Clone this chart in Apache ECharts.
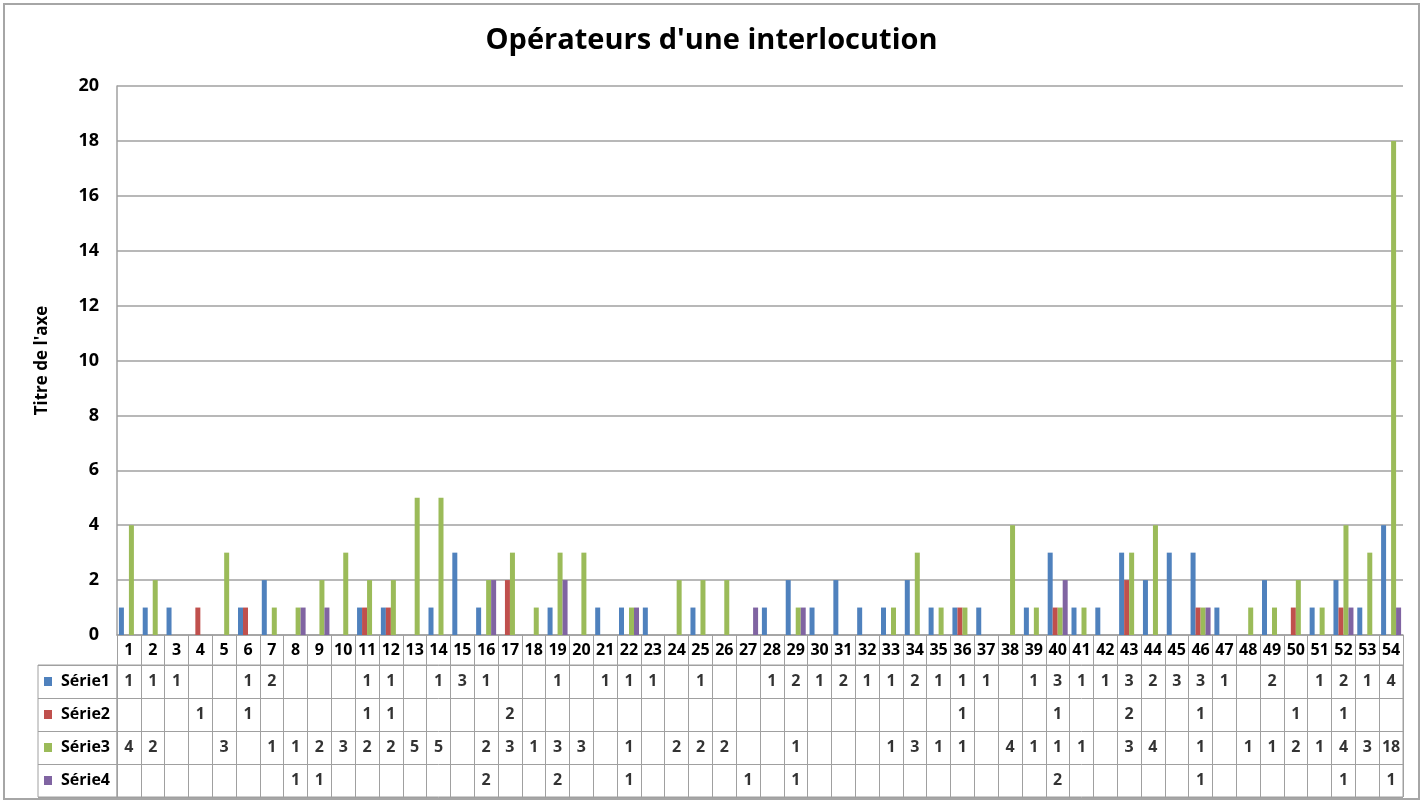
<!DOCTYPE html>
<html>
<head>
<meta charset="utf-8">
<script src="https://cdn.jsdelivr.net/npm/echarts@6/dist/echarts.min.js"></script>
<style>
html, body { margin: 0; padding: 0; background: #fff; }
#chart { width: 1423px; height: 802px; }
#frame { position: absolute; left: 3px; top: 3px; width: 1413px; height: 793px; border: 2px solid #a6a6a6; pointer-events: none; }
</style>
</head>
<body>
<div id="chart"></div>
<div id="frame"></div>
<script>
var n = null
var categories = ['1', '2', '3', '4', '5', '6', '7', '8', '9', '10',
  '11', '12', '13', '14', '15', '16', '17', '18', '19', '20',
  '21', '22', '23', '24', '25', '26', '27', '28', '29', '30',
  '31', '32', '33', '34', '35', '36', '37', '38', '39', '40',
  '41', '42', '43', '44', '45', '46', '47', '48', '49', '50',
  '51', '52', '53', '54']
var serie1 = [1, 1, 1, n, n, 1, 2, n, n, n, 1, 1, n, 1, 3, 1, n, n, 1, n,
  1, 1, 1, n, 1, n, n, 1, 2, 1, 2, 1, 1, 2, 1, 1, 1, n, 1, 3,
  1, 1, 3, 2, 3, 3, 1, n, 2, n, 1, 2, 1, 4]
var serie2 = [n, n, n, 1, n, 1, n, n, n, n, 1, 1, n, n, n, n, 2, n, n, n,
  n, n, n, n, n, n, n, n, n, n, n, n, n, n, n, 1, n, n, n, 1,
  n, n, 2, n, n, 1, n, n, n, 1, n, 1, n, n]
var serie3 = [4, 2, n, n, 3, n, 1, 1, 2, 3, 2, 2, 5, 5, n, 2, 3, 1, 3, 3,
  n, 1, n, 2, 2, 2, n, n, 1, n, n, n, 1, 3, 1, 1, n, 4, 1, 1,
  1, n, 3, 4, n, 1, n, 1, 1, 2, 1, 4, 3, 18]
var serie4 = [n, n, n, n, n, n, n, 1, 1, n, n, n, n, n, n, 2, n, n, 2, n,
  n, 1, n, n, n, n, 1, n, 1, n, n, n, n, n, n, n, n, n, n, 2,
  n, n, n, n, n, 1, n, n, n, n, n, 1, n, 1]
var seriesNames = ['Série1', 'Série2', 'Série3', 'Série4']
var colors = ['#4F81BD', '#C0504D', '#9BBB59', '#8064A2']

var allSeries = [serie1, serie2, serie3, serie4]
var lineGray = '#a0a0a0'
var font = 'Open Sans'

// cells of the data table
var tableCells = []
allSeries.forEach(function(values, row) {
  values.forEach(function(v, i) {
    if (v !== null) tableCells.push([i, row, v])
  })
})

var rich = { t: { fontFamily: font, fontWeight: 'bold', fontSize: 16, color: '#000', padding: [0, 0, 0, 9] } }
colors.forEach(function(c, i) {
  rich['k' + i] = { width: 8, height: 9, backgroundColor: c }
})

var chart = echarts.init(document.getElementById('chart'))

var barSeries = allSeries.map(function(values, i) {
  return {
    name: seriesNames[i],
    type: 'bar',
    xAxisIndex: 0,
    yAxisIndex: 0,
    data: values,
    barGap: '0%',
    barCategoryGap: '16%',
    itemStyle: { color: colors[i] }
  }
})

chart.setOption({
  animation: false,
  textStyle: { fontFamily: font },
  title: {
    text: "Opérateurs d'une interlocution",
    left: 'center',
    top: 21,
    textStyle: { fontFamily: font, fontSize: 29, fontWeight: 'bold', color: '#000' }
  },
  grid: [
    { left: 117, right: 20, top: 86, height: 549 },
    { left: 117, right: 20, top: 665, height: 132, show: true, borderColor: lineGray, borderWidth: 1 },
    { left: 38, width: 79, top: 665, height: 132, show: true, borderColor: lineGray, borderWidth: 1 }
  ],
  xAxis: [
    {
      gridIndex: 0,
      type: 'category',
      data: categories,
      axisLine: { lineStyle: { color: lineGray, width: 1.5 } },
      axisTick: { show: true, interval: 0, length: 30, lineStyle: { color: lineGray } },
      axisLabel: { interval: 0, margin: 7, fontWeight: 'bold', fontSize: 16, color: '#000' }
    },
    {
      gridIndex: 1,
      type: 'category',
      data: categories,
      axisLine: { show: false },
      axisTick: { show: false },
      axisLabel: { show: false },
      splitLine: { show: true, interval: 0, lineStyle: { color: lineGray } }
    },
    { gridIndex: 2, type: 'value', show: false }
  ],
  yAxis: [
    {
      gridIndex: 0,
      type: 'value',
      min: 0,
      max: 20,
      interval: 2,
      name: "Titre de l'axe",
      nameLocation: 'middle',
      nameGap: 66,
      nameTextStyle: { fontWeight: 'bold', fontSize: 17, color: '#000' },
      axisLine: { show: true, lineStyle: { color: lineGray, width: 1.5 } },
      axisTick: { show: false },
      axisLabel: { margin: 18, fontWeight: 'bold', fontSize: 18, color: '#000' },
      splitLine: { lineStyle: { color: lineGray, width: 1.5 } }
    },
    {
      gridIndex: 1,
      type: 'category',
      data: seriesNames,
      inverse: true,
      axisLine: { show: false },
      axisTick: { show: false },
      splitLine: { show: true, interval: 0, lineStyle: { color: lineGray } },
      axisLabel: {
        align: 'left',
        margin: 73,
        formatter: function(v, idx) { return '{k' + idx + '| }{t|' + v + '}' },
        rich: rich
      }
    },
    {
      gridIndex: 2,
      type: 'category',
      data: seriesNames,
      inverse: true,
      axisLine: { show: false },
      axisTick: { show: false },
      axisLabel: { show: false },
      splitLine: { show: true, interval: 0, lineStyle: { color: lineGray } }
    }
  ],
  series: barSeries.concat([{
    type: 'scatter',
    xAxisIndex: 1,
    yAxisIndex: 1,
    silent: true,
    symbolSize: 1,
    itemStyle: { color: 'rgba(0,0,0,0)' },
    label: {
      show: true,
      position: 'inside',
      formatter: function(p) { return p.data[2] },
      fontWeight: 'bold',
      fontSize: 16,
      color: '#000'
    },
    data: tableCells
  }])
})
</script>
</body>
</html>
